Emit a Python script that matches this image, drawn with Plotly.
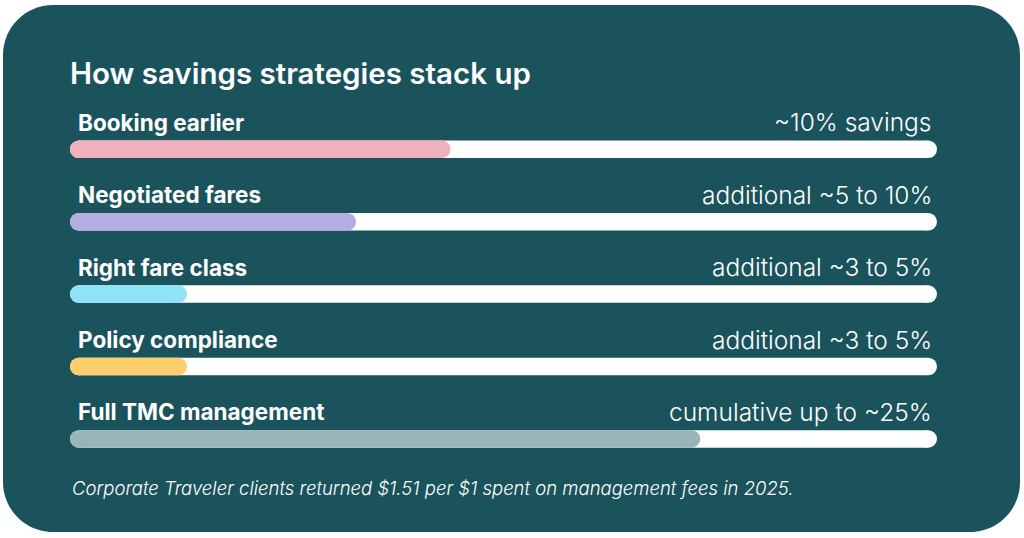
import plotly.graph_objects as go

# ---- data ----
categories = ["Booking earlier", "Negotiated fares", "Right fare class",
              "Policy compliance", "Full TMC management"]
fill_pct = [43.9, 33.0, 13.5, 13.5, 72.7]          # share of track filled
value_labels = ["~10% savings", "additional ~5 to 10%", "additional ~3 to 5%",
                "additional ~3 to 5%", "cumulative up to ~25%"]
colors = ["#f0b0bd", "#b3aee0", "#8fe3f7", "#fecd6c", "#98b5b7"]
title_text = "How savings strategies stack up"
footnote = "Corporate Traveler clients returned $1.51 per $1 spent on management fees in 2025."

W, H = 1024, 538
PANEL = "#1b535c"
FONT = "Inter"

# axis geometry (pixel-linear): 0 -> 70px, 100 -> 937px
px_per_unit = (937 - 70) / 100.0
xmin = -70 / px_per_unit
xmax = xmin + W / px_per_unit
bar_px = 17.5
r = (bar_px / 2) / px_per_unit

# y: index i -> center pixel 149.3 + 72.4 i
y0_px, dy_px = 149.3, 72.4
ytop = (0 - y0_px) / dy_px
ybot = (H - y0_px) / dy_px

fig = go.Figure()

for i, (cat, v, c) in enumerate(zip(categories, fill_pct, colors)):
    # track
    fig.add_trace(go.Scatter(
        x=[r, 100 - r], y=[i, i], mode="lines+markers",
        line=dict(color="white", width=bar_px),
        marker=dict(size=bar_px, color="white", line=dict(width=0)),
        hoverinfo="skip", showlegend=False))
    # fill
    fig.add_trace(go.Scatter(
        x=[r, v - r], y=[i, i], mode="lines+markers",
        line=dict(color=c, width=bar_px),
        marker=dict(size=bar_px, color=c, line=dict(width=0)),
        hoverinfo="skip", showlegend=False))

annotations = []
for i, (cat, lab) in enumerate(zip(categories, value_labels)):
    annotations.append(dict(
        x=0, y=i, xref="x", yref="y", text=cat, showarrow=False,
        xanchor="left", yanchor="middle", xshift=6, yshift=27,
        font=dict(family=FONT, size=22.5, color="white", weight=700)))
    annotations.append(dict(
        x=100, y=i, xref="x", yref="y", text=lab, showarrow=False,
        xanchor="right", yanchor="middle", xshift=-3, yshift=27,
        font=dict(family=FONT, size=24.5, color="white", weight=300)))

annotations.append(dict(
    x=68 / W, y=1 - 73 / H, xref="paper", yref="paper", text=title_text,
    showarrow=False, xanchor="left", yanchor="middle",
    font=dict(family=FONT, size=29.5, color="white", weight=600)))
annotations.append(dict(
    x=70 / W, y=1 - 488 / H, xref="paper", yref="paper",
    text="<i>" + footnote + "</i>", showarrow=False, xanchor="left",
    yanchor="middle",
    font=dict(family=FONT, size=18.5, color="white", weight=300)))


# rounded panel path in paper coords
def P(px, py):
    return f"{px / W:.5f},{1 - py / H:.5f}"


L, R, T, B, rad = 3, 1020, 5, 532, 50
k = 0.5523 * rad
path = (f"M {P(L + rad, T)} L {P(R - rad, T)} "
        f"C {P(R - rad + k, T)} {P(R, T + rad - k)} {P(R, T + rad)} "
        f"L {P(R, B - rad)} "
        f"C {P(R, B - rad + k)} {P(R - rad + k, B)} {P(R - rad, B)} "
        f"L {P(L + rad, B)} "
        f"C {P(L + rad - k, B)} {P(L, B - rad + k)} {P(L, B - rad)} "
        f"L {P(L, T + rad)} "
        f"C {P(L, T + rad - k)} {P(L + rad - k, T)} {P(L + rad, T)} Z")

fig.update_layout(
    width=W, height=H,
    margin=dict(l=0, r=0, t=0, b=0),
    paper_bgcolor="white", plot_bgcolor="rgba(0,0,0,0)",
    shapes=[dict(type="path", path=path, xref="paper", yref="paper",
                 fillcolor=PANEL, line=dict(width=0), layer="below")],
    annotations=annotations,
    xaxis=dict(range=[xmin, xmax], visible=False, fixedrange=True),
    yaxis=dict(range=[ybot, ytop], visible=False, fixedrange=True),
    showlegend=False,
)

fig.write_html("out.html", config=dict(displayModeBar=False))
